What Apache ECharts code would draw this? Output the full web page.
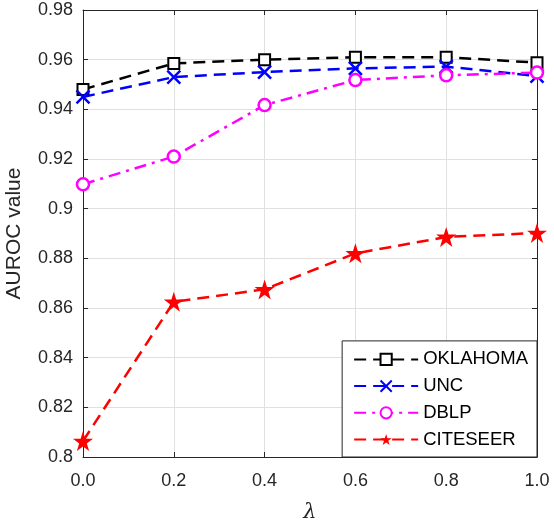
<!DOCTYPE html>
<html>
<head>
<meta charset="utf-8">
<script src="https://cdn.jsdelivr.net/npm/echarts@6/dist/echarts.min.js"></script>
<style>
  html, body { margin: 0; padding: 0; background: #fff; }
  #chart { width: 554px; height: 524px; }
</style>
</head>
<body>
<div id="chart"></div>
<script>
  // lambda values on the x axis
  const lambdas = [0.0, 0.2, 0.4, 0.6, 0.8, 1.0]
  // AUROC values
  const oklahoma = [0.948, 0.9585, 0.960, 0.961, 0.961, 0.9588]
  const unc = [0.945, 0.953, 0.955, 0.9565, 0.9572, 0.9534]
  const dblp = [0.9098, 0.921, 0.9417, 0.9518, 0.9537, 0.9548]
  const citeseer = [0.8064, 0.8625, 0.8675, 0.882, 0.8886, 0.8902]

  const seriesNames = ['OKLAHOMA', 'UNC', 'DBLP', 'CITESEER']

  const font = 'Liberation Sans, Arial, sans-serif'
  const axisColor = '#262626'
  const gridColor = '#e0e0e0'

  const starPath = 'path://M50,0L61.23,34.55L97.55,34.55L68.16,55.9L79.39,90.45L50,69.1L20.61,90.45L31.84,55.9L2.45,34.55L38.77,34.55Z'
  const crossPath = 'path://M0,0L10,10M0,10L10,0'

  function pairs(ys) {
    return lambdas.map((x, i) => [x, ys[i]])
  }

  let myChart = echarts.init(document.getElementById('chart'), null, {renderer: 'canvas'})

  const baseX = {
    type: 'value',
    min: 0,
    max: 1,
    interval: 0.2,
    axisLine: {show: true, onZero: false, lineStyle: {color: axisColor, width: 1}},
    axisTick: {show: true, inside: true, length: 5, lineStyle: {color: axisColor}},
    splitLine: {show: false}
  }
  const baseY = {
    type: 'value',
    min: 0.8,
    max: 0.98,
    interval: 0.02,
    axisLine: {show: true, onZero: false, lineStyle: {color: axisColor, width: 1}},
    axisTick: {show: true, inside: true, length: 5, lineStyle: {color: axisColor}},
    splitLine: {show: false}
  }

  myChart.setOption({
    backgroundColor: '#ffffff',
    animation: false,
    grid: {left: 83, right: 17, top: 10, bottom: 67, outerBoundsMode: 'none', containLabel: false},
    legend: {
      data: seriesNames,
      orient: 'vertical',
      right: 17,
      bottom: 67,
      backgroundColor: '#ffffff',
      borderColor: axisColor,
      borderWidth: 1,
      padding: [9, 9, 8, 11],
      itemGap: 7.7,
      itemWidth: 64,
      itemHeight: 14,
      textStyle: {fontFamily: font, fontSize: 18.5, lineHeight: 18, color: '#000'}
    },
    xAxis: [
      Object.assign({}, baseX, {
        position: 'bottom',
        name: 'λ',
        nameLocation: 'middle',
        nameGap: 45,
        nameTextStyle: {fontFamily: 'DejaVu Serif, serif', fontStyle: 'italic', fontSize: 21, color: axisColor},
        axisLabel: {
          fontFamily: font, fontSize: 18, color: axisColor, margin: 15,
          formatter: (v) => v.toFixed(1)
        },
        splitLine: {show: true, lineStyle: {color: gridColor, width: 1}}
      }),
      Object.assign({}, baseX, {position: 'top', axisLabel: {show: false}})
    ],
    yAxis: [
      Object.assign({}, baseY, {
        position: 'left',
        name: 'AUROC value',
        nameLocation: 'middle',
        nameGap: 58,
        nameTextStyle: {fontFamily: font, fontSize: 21, color: axisColor},
        axisLabel: {
          fontFamily: font, fontSize: 18, color: axisColor, margin: 10,
          formatter: (v) => String(parseFloat(v.toFixed(2)))
        },
        splitLine: {show: true, lineStyle: {color: gridColor, width: 1}}
      }),
      Object.assign({}, baseY, {position: 'right', axisLabel: {show: false}})
    ],
    series: [
      {
        name: 'OKLAHOMA',
        type: 'line',
        data: pairs(oklahoma),
        symbol: 'rect',
        symbolSize: 11,
        lineStyle: {color: '#000000', width: 2.5, type: [12, 7]},
        itemStyle: {color: '#ffffff', borderColor: '#000000', borderWidth: 2},
        z: 2
      },
      {
        name: 'UNC',
        type: 'line',
        data: pairs(unc),
        symbol: crossPath,
        symbolSize: 13,
        lineStyle: {color: '#0000ff', width: 2.5, type: [12, 7]},
        itemStyle: {color: '#0000ff', borderColor: '#0000ff', borderWidth: 2.5},
        z: 3
      },
      {
        name: 'DBLP',
        type: 'line',
        data: pairs(dblp),
        symbol: 'circle',
        symbolSize: 12,
        lineStyle: {color: '#ff00ff', width: 2.5, type: [12, 6, 3, 6]},
        itemStyle: {color: '#ffffff', borderColor: '#ff00ff', borderWidth: 2.5},
        z: 4
      },
      {
        name: 'CITESEER',
        type: 'line',
        data: pairs(citeseer),
        symbol: starPath,
        symbolSize: 20,
        lineStyle: {color: '#ff0000', width: 2.5, type: [12, 7]},
        itemStyle: {color: '#ff0000', borderColor: '#ff0000', borderWidth: 0},
        z: 5
      }
    ]
  })
</script>
</body>
</html>
